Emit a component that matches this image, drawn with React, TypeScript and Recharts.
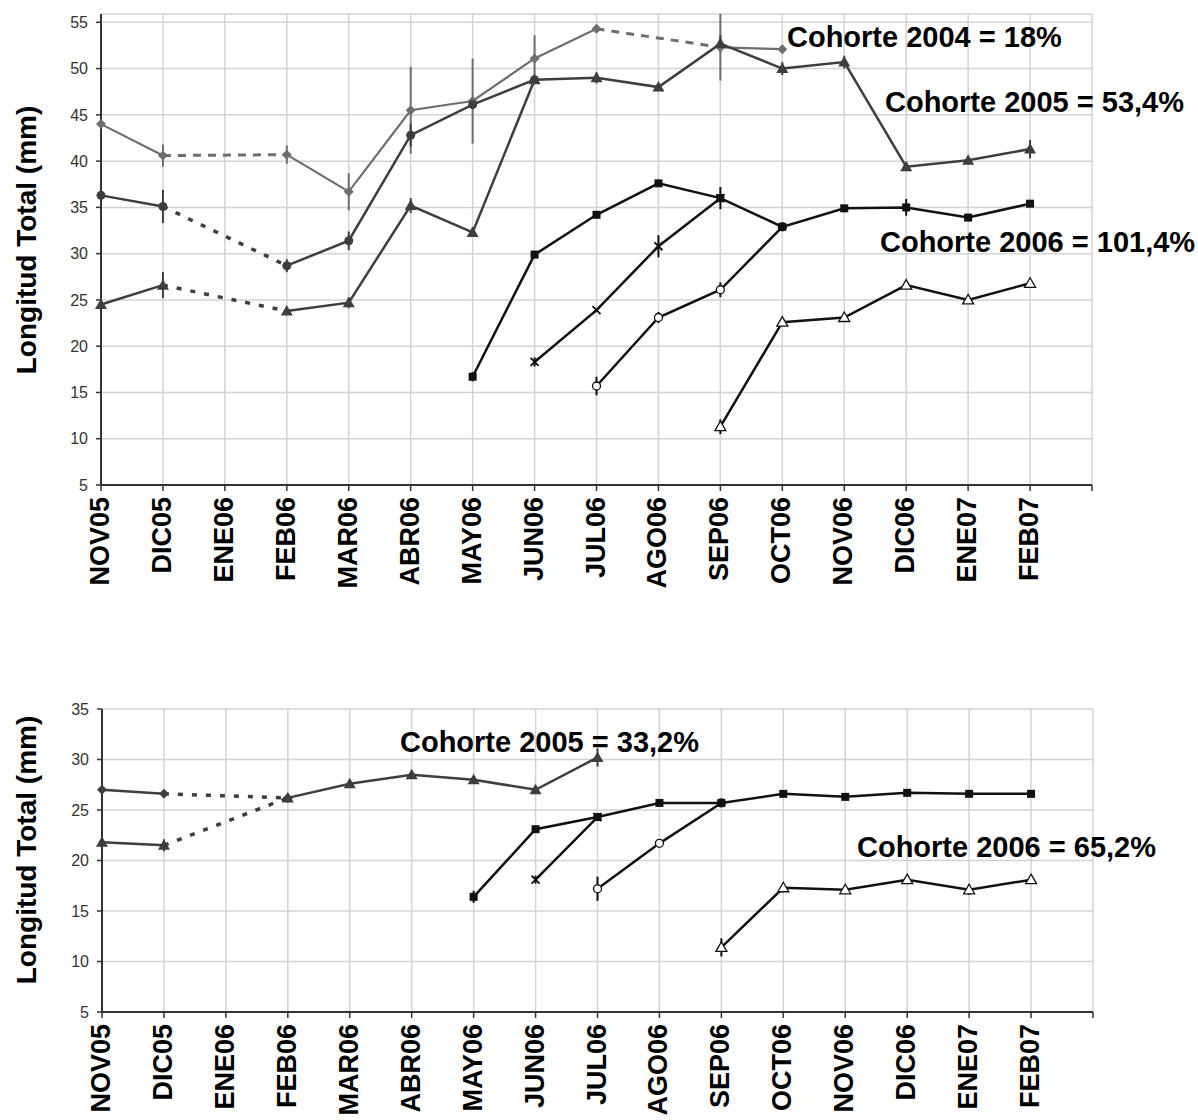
import React from "react";
import { LineChart, Line, XAxis, YAxis, CartesianGrid, ErrorBar } from "recharts";

// ---------- categories ----------
const months = ["NOV05", "DIC05", "ENE06", "FEB06", "MAR06", "ABR06", "MAY06", "JUN06", "JUL06", "AGO06", "SEP06", "OCT06", "NOV06", "DIC06", "ENE07", "FEB07", ""];

// ---------- top chart (y 5..55) ----------
const topTicks = [5, 10, 15, 20, 25, 30, 35, 40, 45, 50, 55];
const c2004 = [44.0, 40.6, null, 40.7, 36.7, 45.5, 46.5, 51.1, 54.3, null, 52.3, 52.1, null, null, null, null, null];
const c2004Err = [0, 1.2, 0, 1.0, 2.0, 4.7, 4.6, 2.5, 0.4, 0, 3.6, 0, 0, 0, 0, 0, 0];
const c2005a = [36.3, 35.1, null, 28.7, 31.4, 42.8, 46.1, 48.8, null, null, null, null, null, null, null, null, null];
const c2005aErr = [0, 1.8, 0, 0.7, 1.0, 1.2, 0, 0, 0, 0, 0, 0, 0, 0, 0, 0, 0];
const c2005b = [24.5, 26.6, null, 23.8, 24.7, 35.2, 32.3, 48.8, 49.0, 48.0, 52.7, 50.0, 50.7, 39.4, 40.1, 41.3, null];
const c2005bErr = [0, 1.4, 0, 0, 0.6, 0.8, 0.5, 0, 0.6, 0, 0.9, 0.7, 0.7, 0.4, 0, 1.0, 0];
const c2006a = [null, null, null, null, null, null, 16.7, 29.9, 34.2, 37.6, 36.0, 32.9, 34.9, 35.0, 33.9, 35.4, null];
const c2006aErr = [0, 0, 0, 0, 0, 0, 0.5, 0, 0, 0.3, 1.2, 0, 0, 0.9, 0, 0, 0];
const c2006b = [null, null, null, null, null, null, null, 18.3, 23.9, 30.8, 36.0, null, null, null, null, null, null];
const c2006bErr = [0, 0, 0, 0, 0, 0, 0, 0.5, 0, 1.2, 0, 0, 0, 0, 0, 0, 0];
const c2006c = [null, null, null, null, null, null, null, null, 15.7, 23.1, 26.1, 32.9, null, null, null, null, null];
const c2006cErr = [0, 0, 0, 0, 0, 0, 0, 0, 1.0, 0.6, 0.8, 0, 0, 0, 0, 0, 0];
const c2006d = [null, null, null, null, null, null, null, null, null, null, 11.3, 22.6, 23.1, 26.6, 25.0, 26.8, null];
const c2006dErr = [0, 0, 0, 0, 0, 0, 0, 0, 0, 0, 0.8, 0, 0, 0, 0, 0, 0];

// ---------- bottom chart (y 5..35) ----------
const botTicks = [5, 10, 15, 20, 25, 30, 35];
const b2005a = [27.0, 26.6, null, 26.2, null, null, null, null, null, null, null, null, null, null, null, null, null];
const b2005b = [21.8, 21.5, null, 26.2, 27.6, 28.5, 28.0, 27.0, 30.2, null, null, null, null, null, null, null, null];
const b2005bErr = [0, 0.6, 0, 0, 0, 0, 0, 0, 0.9, 0, 0, 0, 0, 0, 0, 0, 0];
const b2006a = [null, null, null, null, null, null, 16.4, 23.1, 24.3, 25.7, 25.7, 26.6, 26.3, 26.7, 26.6, 26.6, null];
const b2006aErr = [0, 0, 0, 0, 0, 0, 0.6, 0, 0, 0, 0, 0, 0, 0, 0, 0, 0];
const b2006b = [null, null, null, null, null, null, null, 18.1, 24.3, null, null, null, null, null, null, null, null];
const b2006bErr = [0, 0, 0, 0, 0, 0, 0, 0.4, 0, 0, 0, 0, 0, 0, 0, 0, 0];
const b2006c = [null, null, null, null, null, null, null, null, 17.2, 21.7, 25.7, null, null, null, null, null, null];
const b2006cErr = [0, 0, 0, 0, 0, 0, 0, 0, 1.2, 0, 0, 0, 0, 0, 0, 0, 0];
const b2006d = [null, null, null, null, null, null, null, null, null, null, 11.4, 17.3, 17.1, 18.1, 17.1, 18.1, null];
const b2006dErr = [0, 0, 0, 0, 0, 0, 0, 0, 0, 0, 0.9, 0, 0, 0, 0.5, 0, 0];

// ---------- helpers ----------
const gap = (vals: (number | null)[], i: number, j: number) => vals.map((v, k) => (k === i || k === j ? v : null));

const buildRows = (series: Record<string, (number | null)[]>) =>
  months.map((m, i) => {
    const row: any = { m };
    Object.keys(series).forEach((k) => (row[k] = series[k][i]));
    return row;
  });

const topRows = buildRows({
  a: c2004, aE: c2004Err, aG1: gap(c2004, 1, 3), aG2: gap(c2004, 8, 10),
  b: c2005a, bE: c2005aErr, bG: gap(c2005a, 1, 3),
  c: c2005b, cE: c2005bErr, cG: gap(c2005b, 1, 3),
  d: c2006a, dE: c2006aErr,
  e: c2006b, eE: c2006bErr,
  f: c2006c, fE: c2006cErr,
  g: c2006d, gE: c2006dErr,
});

const botRows = buildRows({
  h: b2005a, hG: gap(b2005a, 1, 3),
  i: b2005b, iE: b2005bErr, iG: gap(b2005b, 1, 3),
  j: b2006a, jE: b2006aErr,
  k: b2006b, kE: b2006bErr,
  l: b2006c, lE: b2006cErr,
  n: b2006d, nE: b2006dErr,
});

const GRAY = "#6e6e6e";
const DARK = "#3e3e3e";
const BLACK = "#111111";
const FONT = '"Liberation Sans", Arial, sans-serif';

const makeDot = (shape: string, color: string) => (props: any) => {
  const { cx, cy, index, value } = props;
  const key = `dot-${shape}-${index}`;
  if (cx == null || cy == null || value == null || Number.isNaN(cy)) return <g key={key} />;
  switch (shape) {
    case "diamond":
      return <path key={key} d={`M${cx},${cy - 5}L${cx + 5},${cy}L${cx},${cy + 5}L${cx - 5},${cy}Z`} fill={color} />;
    case "circle":
      return <circle key={key} cx={cx} cy={cy} r={4.5} fill={color} />;
    case "triangle":
      return <path key={key} d={`M${cx},${cy - 6}L${cx + 6},${cy + 4.5}L${cx - 6},${cy + 4.5}Z`} fill={color} />;
    case "square":
      return <rect key={key} x={cx - 4} y={cy - 4} width={8} height={8} fill={color} />;
    case "cross":
      return (
        <path key={key} d={`M${cx - 4},${cy - 4}L${cx + 4},${cy + 4}M${cx - 4},${cy + 4}L${cx + 4},${cy - 4}`} stroke={color} strokeWidth={1.8} />
      );
    case "ocircle":
      return <circle key={key} cx={cx} cy={cy} r={4} fill="#fff" stroke={color} strokeWidth={1.3} />;
    case "otriangle":
      return <path key={key} d={`M${cx},${cy - 5.5}L${cx + 5.5},${cy + 4}L${cx - 5.5},${cy + 4}Z`} fill="#fff" stroke={color} strokeWidth={1.3} />;
    default:
      return <g key={key} />;
  }
};

const XTick = (props: any) => {
  const { x, y, payload } = props;
  if (!payload || !payload.value) return <g />;
  return (
    <text
      transform={`translate(${x - 1},${y + 4}) rotate(-90)`}
      textAnchor="end"
      dominantBaseline="central"
      fontSize={27}
      fontWeight="bold"
      fontFamily={FONT}
      fill="#000"
    >
      {payload.value}
    </text>
  );
};

const yTickStyle = { fontSize: 16, fill: "#333", fontFamily: FONT };

const mainLine = (key: string, color: string, shape: string, width: number, errKey?: string) => (
  <Line
    key={key}
    dataKey={key}
    type="linear"
    stroke={color}
    strokeWidth={width}
    dot={makeDot(shape, color)}
    activeDot={false}
    connectNulls={false}
    isAnimationActive={false}
  >
    {errKey ? <ErrorBar dataKey={errKey} width={0} stroke={color} strokeWidth={2} direction="y" /> : null}
  </Line>
);

const gapLine = (key: string, color: string, width: number, dash: string) => (
  <Line
    key={key}
    dataKey={key}
    type="linear"
    stroke={color}
    strokeWidth={width}
    strokeDasharray={dash}
    dot={false}
    activeDot={false}
    connectNulls
    isAnimationActive={false}
  />
);

const labelStyle = (left: number, top: number): React.CSSProperties => ({
  position: "absolute",
  left,
  top,
  transform: "translateY(-50%)",
  fontFamily: FONT,
  fontWeight: "bold",
  fontSize: 29,
  whiteSpace: "nowrap",
  color: "#000",
  lineHeight: 1,
});

const yLabelStyle = (cx: number, cy: number): React.CSSProperties => ({
  position: "absolute",
  left: cx,
  top: cy,
  transform: "translate(-50%, -50%) rotate(-90deg)",
  fontFamily: FONT,
  fontWeight: "bold",
  fontSize: 28,
  whiteSpace: "nowrap",
  color: "#000",
  lineHeight: 1,
});

export default function App() {
  return (
    <div style={{ position: "absolute", left: 0, top: 0, width: 1198, height: 1120, background: "#fff" }}>
      {/* Top chart */}
      <div style={{ position: "absolute", left: 0, top: 0 }}>
        <LineChart width={1198} height={600} data={topRows} margin={{ top: 14, right: 106, left: 0, bottom: 0 }}>
          <CartesianGrid stroke="#d3d3d3" strokeWidth={1.5} />
          <XAxis
            dataKey="m"
            interval={0}
            height={115}
            tick={<XTick />}
            tickSize={6}
            axisLine={{ stroke: "#333", strokeWidth: 2 }}
            tickLine={{ stroke: "#333", strokeWidth: 1.5 }}
          />
          <YAxis
            width={101}
            domain={[5, 55]}
            ticks={topTicks}
            tick={yTickStyle}
            tickSize={5}
            tickMargin={8}
            axisLine={{ stroke: "#333", strokeWidth: 2 }}
            tickLine={{ stroke: "#333", strokeWidth: 1.5 }}
          />
          {gapLine("aG1", GRAY, 3, "8 7")}
          {gapLine("aG2", GRAY, 3, "8 7")}
          {gapLine("bG", DARK, 3.5, "5 9")}
          {gapLine("cG", DARK, 3.5, "5 9")}
          {mainLine("a", GRAY, "diamond", 2.2, "aE")}
          {mainLine("b", DARK, "circle", 2.5, "bE")}
          {mainLine("c", DARK, "triangle", 2.5, "cE")}
          {mainLine("g", BLACK, "otriangle", 2.5, "gE")}
          {mainLine("f", BLACK, "ocircle", 2.5, "fE")}
          {mainLine("e", BLACK, "cross", 2.5, "eE")}
          {mainLine("d", BLACK, "square", 2.5, "dE")}
        </LineChart>
      </div>
      <div style={yLabelStyle(27, 240)}>Longitud Total (mm)</div>
      <div style={labelStyle(787, 37)}>Cohorte 2004 = 18%</div>
      <div style={labelStyle(885, 102)}>Cohorte 2005 = 53,4%</div>
      <div style={labelStyle(880, 242)}>Cohorte 2006 = 101,4%</div>

      {/* Bottom chart */}
      <div style={{ position: "absolute", left: 0, top: 690 }}>
        <LineChart width={1198} height={430} data={botRows} margin={{ top: 19, right: 105, left: 0, bottom: 0 }}>
          <CartesianGrid stroke="#d3d3d3" strokeWidth={1.5} />
          <XAxis
            dataKey="m"
            interval={0}
            height={108}
            tick={<XTick />}
            tickSize={6}
            axisLine={{ stroke: "#333", strokeWidth: 2 }}
            tickLine={{ stroke: "#333", strokeWidth: 1.5 }}
          />
          <YAxis
            width={102}
            domain={[5, 35]}
            ticks={botTicks}
            tick={yTickStyle}
            tickSize={5}
            tickMargin={8}
            axisLine={{ stroke: "#333", strokeWidth: 2 }}
            tickLine={{ stroke: "#333", strokeWidth: 1.5 }}
          />
          {gapLine("hG", DARK, 3.5, "5 9")}
          {gapLine("iG", DARK, 3.5, "5 9")}
          {mainLine("h", DARK, "diamond", 2.5)}
          {mainLine("i", DARK, "triangle", 2.5, "iE")}
          {mainLine("n", BLACK, "otriangle", 2.5, "nE")}
          {mainLine("l", BLACK, "ocircle", 2.5, "lE")}
          {mainLine("k", BLACK, "cross", 2.5, "kE")}
          {mainLine("j", BLACK, "square", 2.5, "jE")}
        </LineChart>
      </div>
      <div style={yLabelStyle(27, 850)}>Longitud Total (mm)</div>
      <div style={labelStyle(400, 742)}>Cohorte 2005 = 33,2%</div>
      <div style={labelStyle(857, 847)}>Cohorte 2006 = 65,2%</div>
    </div>
  );
}
